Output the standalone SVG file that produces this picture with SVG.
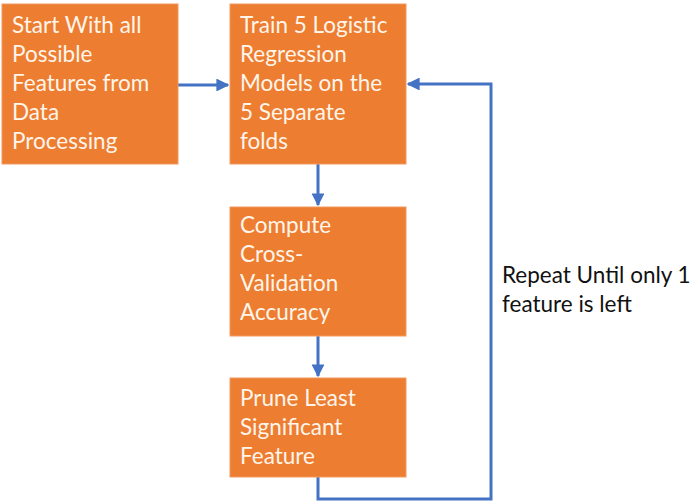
<svg xmlns="http://www.w3.org/2000/svg" width="690" height="501" viewBox="0 0 690 501">
  <style>
    .box { fill: #ED7D31; stroke: #F19A5E; stroke-width: 1; }
    .lbl { font-family: Lato, "Open Sans", "Liberation Sans", sans-serif; font-size: 22.5px; fill: #FFF5EA; }
    .note { font-family: Lato, "Open Sans", "Liberation Sans", sans-serif; font-size: 22.5px; fill: #111111; }
    .edge { fill: none; stroke: #4472C4; stroke-width: 3; }
  </style>
  <defs>
    <marker id="arrow" viewBox="0 0 10 10" refX="9" refY="5" markerWidth="4.3" markerHeight="4.3" orient="auto" markerUnits="strokeWidth">
      <path d="M0,0 L10,5 L0,10 z" fill="#4472C4"/>
    </marker>
  </defs>
  <rect width="690" height="501" fill="#FFFFFF"/>

  <g id="connectors">
    <line class="edge" x1="178" y1="85" x2="228" y2="85" marker-end="url(#arrow)"/>
    <line class="edge" x1="318" y1="164" x2="318" y2="205" marker-end="url(#arrow)"/>
    <line class="edge" x1="318" y1="336" x2="318" y2="376" marker-end="url(#arrow)"/>
    <polyline class="edge" points="318,477 318,499 491,499 491,84 408,84" marker-end="url(#arrow)"/>
  </g>

  <g id="start">
    <rect class="box" x="2" y="4" width="176" height="160"/>
    <text class="lbl" x="12" y="33">Start With all</text>
    <text class="lbl" x="12" y="62">Possible</text>
    <text class="lbl" x="12" y="91">Features from</text>
    <text class="lbl" x="12" y="120">Data</text>
    <text class="lbl" x="12" y="149">Processing</text>
  </g>

  <g id="train">
    <rect class="box" x="230" y="4" width="176" height="160"/>
    <text class="lbl" x="240" y="33">Train 5 Logistic</text>
    <text class="lbl" x="240" y="62">Regression</text>
    <text class="lbl" x="240" y="91">Models on the</text>
    <text class="lbl" x="240" y="120">5 Separate</text>
    <text class="lbl" x="240" y="149">folds</text>
  </g>

  <g id="compute">
    <rect class="box" x="230" y="207" width="176" height="129"/>
    <text class="lbl" x="240" y="233">Compute</text>
    <text class="lbl" x="240" y="262">Cross-</text>
    <text class="lbl" x="240" y="291">Validation</text>
    <text class="lbl" x="240" y="320">Accuracy</text>
  </g>

  <g id="prune">
    <rect class="box" x="230" y="378" width="176" height="99"/>
    <text class="lbl" x="240" y="406">Prune Least</text>
    <text class="lbl" x="240" y="435">Significant</text>
    <text class="lbl" x="240" y="464">Feature</text>
  </g>

  <g id="repeat-note">
    <text class="note" x="502" y="283">Repeat Until only 1</text>
    <text class="note" x="502" y="312">feature is left</text>
  </g>
</svg>
